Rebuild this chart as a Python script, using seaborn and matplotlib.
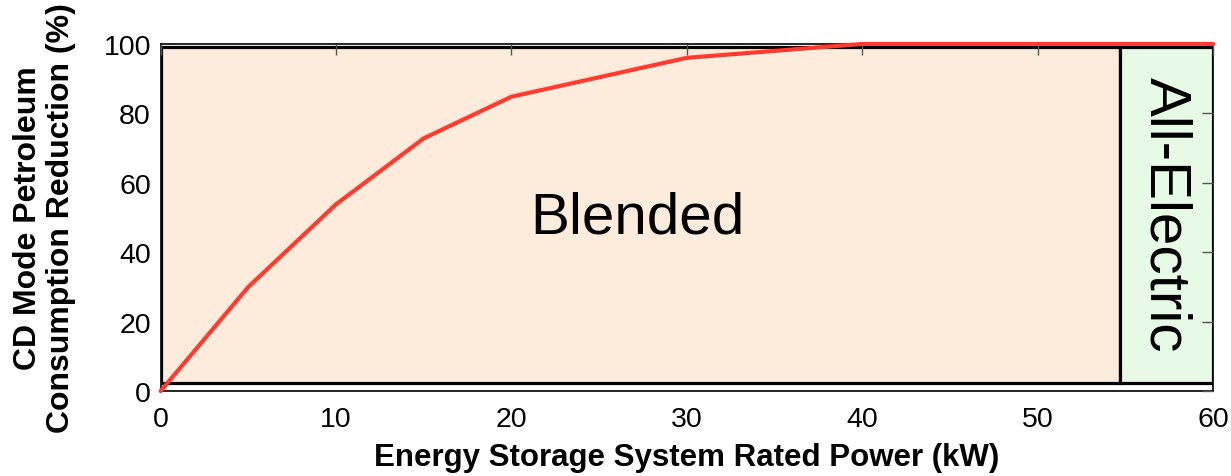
import matplotlib
matplotlib.use("Agg")
import matplotlib.pyplot as plt
import seaborn as sns
import pandas as pd
from matplotlib.patches import Rectangle

power_kw = [0, 5, 10, 15, 20, 30, 40, 50, 60]
reduction_pct = [0, 30, 53.8, 72.8, 84.8, 96.0, 100, 100, 100]
x_ticks = [0, 10, 20, 30, 40, 50, 60]
y_ticks = [0, 20, 40, 60, 80, 100]
regions = ["Blended", "All-Electric"]
region_bounds = [(0, 54.7), (54.7, 60)]

sns.set_theme(style="white", rc={"text.color": "black", "axes.labelcolor": "black",
                                 "xtick.color": "black", "ytick.color": "black"})
plt.rcParams['font.family'] = ['Liberation Sans', 'DejaVu Sans']

fig = plt.figure(figsize=(12.31, 4.77), dpi=100)
ax = fig.add_axes([0.1305, 0.178, 0.8549, 0.7277])
ax.set_axisbelow(False)

df = pd.DataFrame({"power": power_kw, "reduction": reduction_pct})

fills = ["#fdecdc", "#e6fae6"]
for (x0, x1), fc in zip(region_bounds, fills):
    ax.add_patch(Rectangle((x0, 2.2), x1 - x0, 96.8, facecolor=fc,
                           edgecolor="black", linewidth=2.3, zorder=1))

sns.lineplot(data=df, x="power", y="reduction", color="#ff3b30",
             linewidth=3, ax=ax, zorder=3, clip_on=False)

ax.text(27.2, 50, regions[0], fontsize=42, ha="center", va="center", zorder=4)
ax.text(57.3, 51, regions[1], fontsize=42, ha="center", va="center",
        rotation=-90, zorder=4)

ax.set_xlim(0, 60)
ax.set_ylim(0, 100)
ax.set_xticks(x_ticks)
ax.set_yticks(y_ticks)
ax.tick_params(axis="both", direction="in", length=8, width=1,
               labelsize=20.5, top=True, right=True, color="#555555")
ax.tick_params(axis="x", pad=11)
ax.tick_params(axis="y", pad=7)
ax.set_xlabel("Energy Storage System Rated Power (kW)", fontsize=22.5,
              fontweight="bold", labelpad=7)
ax.set_ylabel("CD Mode Petroleum\nConsumption Reduction (%)", fontsize=23,
              fontweight="bold", labelpad=20, linespacing=1.12)
for s in ax.spines.values():
    s.set_color("black")
    s.set_linewidth(1.2)

fig.savefig("out.png", dpi=100)
